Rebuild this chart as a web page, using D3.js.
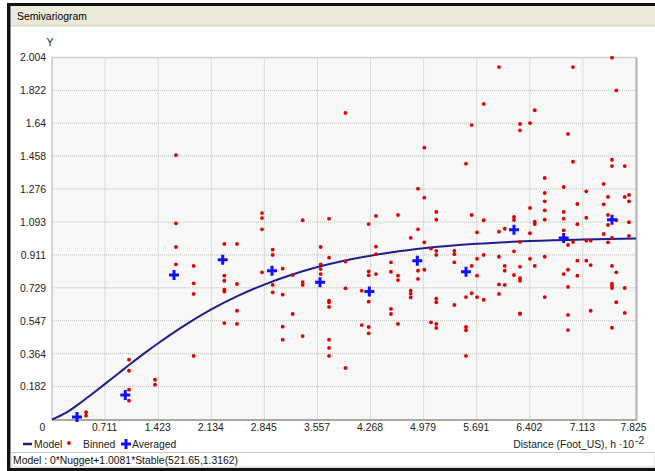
<!DOCTYPE html>
<html><head><meta charset="utf-8">
<script src="https://cdn.jsdelivr.net/npm/d3@7"></script>
<style>html,body{margin:0;padding:0;background:#fff;overflow:hidden}svg{display:block}</style>
</head><body>
<script>
const xTicks = [0, 0.711, 1.423, 2.134, 2.845, 3.557, 4.268, 4.979, 5.691, 6.402, 7.113, 7.825];
const yTicks = [0, 0.182, 0.364, 0.547, 0.729, 0.911, 1.093, 1.276, 1.458, 1.64, 1.822, 2.004];
const modelX = [0, 0.178, 0.356, 0.533, 0.711, 0.889, 1.067, 1.245, 1.423, 1.778, 2.134, 2.490, 2.845, 3.201, 3.557, 3.912, 4.268, 4.624, 4.979, 5.691, 6.402, 7.113, 7.825];
const modelY = [0, 0.035, 0.085, 0.140, 0.197, 0.255, 0.313, 0.369, 0.422, 0.521, 0.609, 0.684, 0.747, 0.800, 0.844, 0.879, 0.907, 0.930, 0.948, 0.973, 0.988, 0.997, 1.002];
const averaged = [[0.335,0.014],[0.982,0.136],[1.635,0.800],[2.287,0.885],[2.948,0.824],[3.591,0.760],[4.252,0.708],[4.895,0.879],[5.547,0.818],[6.190,1.051],[6.856,1.005],[7.503,1.106]];
const binned = [
[1.661,1.464],[1.661,1.086],[1.661,0.955],[1.661,0.859],[1.898,0.850],[1.898,0.754],[1.898,0.695],[1.898,0.352],[1.032,0.331],[1.032,0.270],[1.032,0.165],[1.032,0.104],[1.380,0.220],[1.380,0.193],[0.456,0.040],[0.456,0.021],
[3.932,1.697],[2.814,1.143],[2.814,1.115],[2.814,1.053],[2.814,0.815],[2.309,0.972],[2.479,0.972],[2.309,0.796],[2.309,0.768],[2.309,0.719],[2.309,0.708],[2.479,0.750],[2.479,0.602],[2.309,0.534],[2.479,0.529],[2.957,0.940],[2.957,0.911],[2.957,0.745],[2.957,0.704],[3.091,0.835],[3.091,0.691],[3.091,0.514],[3.091,0.442],[3.225,0.800],[3.225,0.584],[3.359,1.103],[3.359,0.761],[3.359,0.745],[3.359,0.462],[3.712,1.112],[3.600,0.955],[3.712,0.896],[3.600,0.859],[3.600,0.833],[3.600,0.805],[3.712,0.658],[3.712,0.649],[3.712,0.623],[3.712,0.442],[3.712,0.396],[3.712,0.352],[3.932,0.874],[3.932,0.726],[3.932,0.285],
[5.784,1.747],[5.623,1.630],[4.989,1.505],[5.547,1.416],[4.904,1.278],[4.989,1.228],[4.341,1.127],[4.636,1.132],[5.149,1.149],[5.149,1.106],[5.623,1.132],[5.784,1.103],[4.243,1.082],[4.904,1.053],[4.806,1.006],[5.695,1.036],[4.989,0.981],[4.341,0.957],[4.341,0.915],[5.078,0.946],[5.149,0.934],[5.149,0.911],[5.391,0.934],[5.391,0.915],[5.391,0.870],[5.784,0.911],[5.695,0.890],[5.623,0.850],[5.695,0.796],[5.547,0.678],[5.623,0.699],[5.695,0.678],[5.784,0.663],[4.542,0.870],[4.542,0.818],[4.636,0.796],[4.636,0.772],[4.904,0.824],[4.989,0.829],[4.904,0.778],[4.341,0.805],[4.243,0.820],[4.243,0.798],[4.150,0.713],[4.243,0.652],[4.806,0.713],[4.806,0.696],[4.806,0.676],[5.149,0.669],[5.149,0.649],[5.391,0.634],[4.542,0.612],[4.542,0.584],[4.636,0.529],[4.150,0.523],[4.243,0.512],[4.243,0.477],[5.078,0.538],[5.149,0.529],[5.149,0.507],[5.547,0.512],[5.547,0.494],[5.547,0.352],
[7.503,2.003],[5.989,1.951],[6.981,1.951],[7.561,1.822],[6.468,1.712],[6.271,1.636],[6.405,1.641],[6.271,1.601],[6.914,1.581],[6.981,1.427],[7.503,1.438],[7.503,1.403],[7.674,1.403],[6.602,1.337],[7.392,1.304],[6.856,1.287],[6.602,1.254],[6.602,1.208],[6.602,1.158],[6.602,1.106],[6.405,1.171],[7.159,1.263],[7.039,1.193],[7.450,1.232],[7.392,1.191],[7.674,1.232],[7.731,1.243],[7.731,1.208],[6.190,1.121],[6.190,1.104],[5.989,1.040],[6.066,1.056],[6.468,1.095],[6.468,1.082],[6.405,1.031],[6.856,1.149],[6.856,1.112],[6.856,1.047],[7.039,1.081],[7.159,1.117],[7.450,1.132],[7.450,1.077],[7.392,1.027],[7.561,1.103],[7.731,1.092],[7.731,1.016],[7.503,1.006],[6.271,0.983],[6.914,0.966],[6.981,0.983],[7.159,0.990],[7.218,0.990],[7.450,0.981],[6.190,0.931],[5.989,0.901],[6.405,0.890],[6.602,0.901],[6.066,0.850],[6.066,0.824],[6.271,0.846],[6.468,0.850],[7.039,0.879],[7.159,0.879],[7.218,0.855],[6.914,0.829],[6.856,0.805],[7.039,0.796],[7.503,0.850],[7.561,0.815],[6.190,0.800],[6.271,0.782],[6.271,0.768],[5.989,0.748],[6.066,0.745],[5.989,0.695],[6.914,0.734],[7.503,0.752],[7.503,0.739],[7.503,0.728],[7.674,0.728],[7.561,0.649],[6.602,0.678],[6.271,0.588],[6.271,0.584],[6.914,0.579],[7.218,0.602],[7.674,0.590],[6.914,0.495],[7.503,0.508]
];

const W = 655, H = 471;
const font = "'Liberation Sans', Arial, sans-serif";
const fs = 10.4;
const svg = d3.select("body").append("svg").attr("width", W).attr("height", H);

// window frame
svg.append("rect").attr("x",0).attr("y",0).attr("width",W).attr("height",H).attr("fill","#fff");
svg.append("rect").attr("x",10.5).attr("y",6).attr("width",W-10.5).attr("height",20).attr("fill","#ECE9D8");
svg.append("line").attr("x1",10.5).attr("x2",W).attr("y1",26).attr("y2",26).attr("stroke","#CFCBB8");
svg.append("text").attr("x",17).attr("y",20).attr("font-family",font).attr("font-size",fs).attr("fill","#000").text("Semivariogram");
svg.append("rect").attr("x",7).attr("y",3).attr("width",W-7).attr("height",3).attr("fill","#111");
svg.append("rect").attr("x",7).attr("y",3).attr("width",3.5).attr("height",H-3).attr("fill","#111");
svg.append("rect").attr("x",7).attr("y",468).attr("width",W-7).attr("height",3).attr("fill","#111");
svg.append("rect").attr("x",11).attr("y",452.5).attr("width",W-11).attr("height",14.5).attr("fill","#fff").attr("stroke","#C8C8C0");
svg.append("text").attr("x",13).attr("y",464).attr("font-family",font).attr("font-size",fs).attr("fill","#111")
  .text("Model : 0*Nugget+1.0081*Stable(521.65,1.3162)");

const x = d3.scaleLinear().domain([0, 7.825]).range([52, 636]);
const y = d3.scaleLinear().domain([0, 2.004]).range([419.5, 57.5]);

// plot background
svg.append("rect").attr("x",x(0)).attr("y",y(2.004)).attr("width",x(7.825)-x(0)).attr("height",y(0)-y(2.004)).attr("fill","#F7F7F7");

// grid
const g = svg.append("g");
g.selectAll("line.gx").data(xTicks.slice(1,-1)).join("line")
  .attr("x1",d=>x(d)).attr("x2",d=>x(d)).attr("y1",y(0)).attr("y2",y(2.004))
  .attr("stroke","#BDBDB5").attr("stroke-dasharray","1,1");
g.selectAll("line.gy").data(yTicks.slice(1,-1)).join("line")
  .attr("y1",d=>y(d)).attr("y2",d=>y(d)).attr("x1",x(0)).attr("x2",x(7.825))
  .attr("stroke","#BDBDB5").attr("stroke-dasharray","1,1");

// border
svg.append("line").attr("x1",x(0)).attr("x2",x(7.825)).attr("y1",y(2.004)).attr("y2",y(2.004)).attr("stroke","#CFCFC8").attr("stroke-width",1.5);
svg.append("line").attr("x1",x(0)).attr("x2",x(0)).attr("y1",y(2.004)).attr("y2",y(0)).attr("stroke","#C8C8C0").attr("stroke-width",1.5);
svg.append("line").attr("x1",x(0)).attr("x2",x(7.825)+1).attr("y1",y(0)+0.5).attr("y2",y(0)+0.5).attr("stroke","#A8A8A0").attr("stroke-width",2);
svg.append("line").attr("x1",x(7.825)+0.5).attr("x2",x(7.825)+0.5).attr("y1",y(2.004)).attr("y2",y(0)+1).attr("stroke","#B0B0A8").attr("stroke-width",2);

// axes labels
const axisX = d3.axisBottom(x).tickValues(xTicks).tickSize(0).tickPadding(0).tickFormat(d=>String(d));
const ax = svg.append("g").attr("transform",`translate(0,${y(0)})`).call(axisX);
ax.select(".domain").remove();
ax.selectAll("text").attr("font-family",font).attr("font-size",fs).attr("fill","#222").attr("y",4)
  .attr("dx",d=> d===0 ? -10 : (d===7.825 ? -3 : -1));
const axisY = d3.axisLeft(y).tickValues(yTicks).tickSize(0).tickPadding(6).tickFormat(d=>String(d));
const ay = svg.append("g").attr("transform",`translate(${x(0)},0)`).call(axisY);
ay.select(".domain").remove();
ay.selectAll("text").attr("font-family",font).attr("font-size",fs).attr("fill","#222");
ay.selectAll(".tick").filter(d=>d===0).remove();
svg.append("text").attr("x",50).attr("y",46).attr("text-anchor","middle").attr("font-family",font).attr("font-size",fs).attr("fill","#222").text("Y");

// model curve
const line = d3.line().x(d=>x(d[0])).y(d=>y(d[1])).curve(d3.curveMonotoneX);
svg.append("path").datum(modelX.map((v,i)=>[v, modelY[i]])).attr("d", line)
  .attr("fill","none").attr("stroke","#1E1E8E").attr("stroke-width",2);

// binned points
svg.append("g").selectAll("circle").data(binned).join("circle")
  .attr("cx",d=>x(d[0])).attr("cy",d=>y(d[1])).attr("r",1.9).attr("fill","#DD0000");

// averaged crosses
const cross = (sel, cx, cy) => {
  sel.append("path").attr("d",`M${cx-5},${cy}H${cx+5}M${cx},${cy-5}V${cy+5}`)
    .attr("stroke","#1010FF").attr("stroke-width",3).attr("fill","none");
};
const ag = svg.append("g");
averaged.forEach(d => cross(ag, x(d[0]), y(d[1])));

// legend
const ly = 444;
svg.append("line").attr("x1",23).attr("x2",32).attr("y1",ly).attr("y2",ly).attr("stroke","#1E1E8E").attr("stroke-width",2.5);
svg.append("text").attr("x",34).attr("y",ly+4).attr("font-family",font).attr("font-size",fs).attr("fill","#222").text("Model");
svg.append("circle").attr("cx",69).attr("cy",ly-1).attr("r",1.9).attr("fill","#DD0000");
svg.append("text").attr("x",83).attr("y",ly+4).attr("font-family",font).attr("font-size",fs).attr("fill","#222").text("Binned");
cross(svg, 126, ly);
svg.append("text").attr("x",132).attr("y",ly+4).attr("font-family",font).attr("font-size",fs).attr("fill","#222").text("Averaged");
svg.append("text").attr("x",634).attr("y",ly+4).attr("text-anchor","end").attr("font-family",font).attr("font-size",fs).attr("fill","#222")
  .text("Distance (Foot_US), h ·10");
svg.append("text").attr("x",635).attr("y",ly).attr("font-family",font).attr("font-size",fs).attr("fill","#222").text("-2");
</script>
</body></html>
